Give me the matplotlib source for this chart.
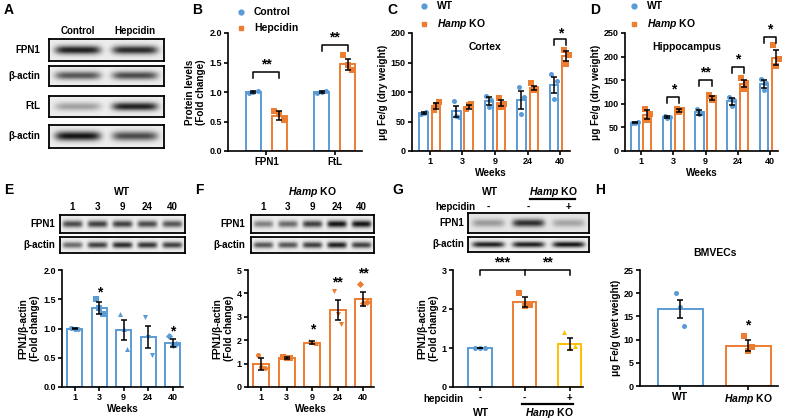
import numpy as np
import matplotlib.pyplot as plt
from matplotlib.lines import Line2D

plt.rcParams.update({
    'font.family': ['Liberation Sans', 'DejaVu Sans'],
    'font.weight': 'bold',
    'axes.labelweight': 'bold',
    'mathtext.fontset': 'custom',
    'mathtext.it': 'Liberation Sans:italic:bold',
    'mathtext.rm': 'Liberation Sans:bold',
    'axes.linewidth': 1.2,
    'xtick.major.width': 1.2, 'ytick.major.width': 1.2,
    'xtick.major.size': 3, 'ytick.major.size': 3,
    'xtick.labelsize': 6.5, 'ytick.labelsize': 6.5,
    'axes.labelsize': 7.2,
})

HAMP = r'$\it{Hamp}$ KO'
BLUE, ORANGE, YELLOW = '#5B9BD5', '#ED7D31', '#FFC000'

# ---- data ----
# B
b_groups = ['FPN1', 'FtL']
b_ctrl_mean = [1.00, 1.00]
b_ctrl_sem = [0.01, 0.02]
b_ctrl_pts = [[0.99, 1.00, 1.01], [0.98, 1.00, 1.01]]
b_hep_mean = [0.60, 1.47]
b_hep_sem = [0.07, 0.09]
b_hep_pts = [[0.68, 0.62, 0.53], [1.62, 1.45, 1.37]]

# C cortex / D hippocampus
weeks = ['1', '3', '9', '24', '40']
c_wt_mean = [64, 67, 85, 87, 112]
c_wt_sem = [2, 9, 7, 15, 14]
c_wt_pts = [[63, 65, 66], [84, 60, 57], [93, 75, 87], [108, 62, 92], [130, 88, 118]]
c_ko_mean = [76, 75, 81, 107, 161]
c_ko_sem = [5, 3, 5, 4, 8]
c_ko_pts = [[70, 78, 83], [72, 78, 80], [90, 75, 80], [115, 103, 105], [172, 148, 163]]

d_wt_mean = [60, 72, 82, 105, 142]
d_wt_sem = [1, 2, 5, 8, 8]
d_wt_pts = [[59, 60, 61], [74, 70, 72], [88, 78, 80], [115, 95, 107], [152, 130, 145]]
d_ko_mean = [77, 85, 112, 143, 198]
d_ko_sem = [10, 3, 4, 7, 15]
d_ko_pts = [[90, 65, 78], [88, 83, 86], [118, 108, 112], [155, 132, 145], [225, 180, 195]]

# E WT / F Hamp KO western quantification
e_mean = [1.00, 1.35, 0.98, 0.86, 0.75]
e_sem = [0.01, 0.11, 0.17, 0.19, 0.07]
e_pts = [[1.01, 0.99, 1.00], [1.50, 1.35, 1.25], [1.25, 1.00, 0.65], [1.20, 0.85, 0.55], [0.88, 0.72, 0.73]]
f_mean = [0.98, 1.25, 1.90, 3.28, 3.78]
f_sem = [0.25, 0.05, 0.05, 0.42, 0.30]
f_pts = [[1.35, 0.85, 0.80], [1.30, 1.22, 1.25], [1.95, 1.92, 1.90], [4.10, 3.10, 2.70], [4.40, 3.60, 3.65]]

# G
g_labels = ['-', '-', '+']
g_mean = [1.00, 2.17, 1.10]
g_sem = [0.01, 0.13, 0.15]
g_pts = [[1.00, 1.00, 1.00], [2.40, 2.08, 2.10], [1.40, 1.00, 1.05]]

# H BMVECs
h_labels = ['WT', HAMP]
h_mean = [16.6, 8.7]
h_sem = [2.0, 1.2]
h_pts = [[20.0, 17.0, 13.0], [10.8, 7.5, 8.5]]

# blot band intensities
a_fpn1 = [0.95, 0.9]
a_actin1 = [0.7, 0.75]
a_ftl = [0.35, 0.95]
a_actin2 = [1.0, 0.75]
e_fpn1 = [0.75, 0.8, 0.8, 0.75, 0.7]
e_actin = [0.6, 0.8, 0.9, 0.85, 0.8]
f_fpn1 = [0.5, 0.6, 0.8, 1.0, 1.0]
f_actin = [0.7, 0.7, 0.8, 0.95, 0.8]
g_fpn1 = [0.35, 0.85, 0.3]
g_actin = [0.95, 0.95, 1.0]

W, H = 787, 420
fig = plt.figure(figsize=(7.87, 4.2), dpi=100)


def pax(x0, y0, x1, y1):
    return fig.add_axes([x0 / W, 1 - y1 / H, (x1 - x0) / W, (y1 - y0) / H])


def ftext(x, y, s, **kw):
    fig.text(x / W, 1 - y / H, s, **kw)


def fline(xs, ys, **kw):
    fig.add_artist(Line2D([x / W for x in xs], [1 - y / H for y in ys],
                          transform=fig.transFigure, **kw))


def style(ax):
    for s in ['top', 'right']:
        ax.spines[s].set_visible(False)
    ax.tick_params(direction='out', pad=1.5)


def bar_set(ax, xs, means, sems, pts, color, width, markers, jit):
    ax.bar(xs, means, width, color='white', edgecolor=color, linewidth=1.4, zorder=1)
    for x, p, m in zip(xs, pts, markers):
        ax.scatter(x + np.array([-jit, 0, jit]), p, marker=m, s=13,
                   color=color, linewidths=0, zorder=2, clip_on=False)
    ax.errorbar(xs, means, yerr=sems, fmt='none', ecolor='black', elinewidth=1.1,
                capsize=2.5, capthick=1.1, zorder=3)


def bracket(ax, x1, x2, y, d, label, ty, size=10):
    ax.plot([x1, x1, x2, x2], [y - d, y, y, y - d], color='black', lw=1.1, clip_on=False)
    ax.text((x1 + x2) / 2, ty, label, ha='center', va='baseline', fontsize=size)


def blot(x0, y0, x1, y1, intens, bg=0.93, sy=0.2, bw=0.4):
    ax = pax(x0, y0, x1, y1)
    n = len(intens)
    h, w = 40, 60 * n
    yy, xx = np.mgrid[0:1:h * 1j, 0:1:w * 1j]
    img = np.full((h, w), bg)
    for i, v in enumerate(intens):
        cx = (i + 0.5) / n
        prof = np.exp(-((xx - cx) / (bw / n)) ** 6) * np.exp(-((yy - 0.5) / sy) ** 2)
        img -= v * 0.85 * prof
    ax.imshow(img, cmap='gray', vmin=0, vmax=1, aspect='auto', extent=[0, 1, 0, 1],
              interpolation='bilinear')
    ax.set_xticks([])
    ax.set_yticks([])
    for s in ax.spines.values():
        s.set_linewidth(1.3)
    return ax


def legend2(x, y1, y2, m1, m2, lab1, lab2):
    fig.add_artist(Line2D([x / W], [1 - y1 / H], marker=m1, color=BLUE, ms=3.5, lw=0,
                          transform=fig.transFigure))
    fig.add_artist(Line2D([x / W], [1 - y2 / H], marker=m2, color=ORANGE, ms=3.5, lw=0,
                          transform=fig.transFigure))
    ftext(x + 13, y1, lab1, fontsize=7.5, va='center')
    ftext(x + 13, y2, lab2, fontsize=7.5, va='center')


# panel letters
for lab, x, y in [('A', 4, 10), ('B', 192, 10), ('C', 387, 10), ('D', 590, 10),
                  ('E', 4, 190), ('F', 195, 190), ('G', 392, 190), ('H', 595, 190)]:
    ftext(x, y, lab, fontsize=10, va='center')

# ---- A ----
blot(49, 39, 164, 61, a_fpn1)
blot(49, 66, 164, 86, a_actin1)
blot(49, 96, 164, 117, a_ftl)
blot(49, 125, 164, 148, a_actin2)
ftext(78, 31, 'Control', fontsize=7, ha='center', va='center')
ftext(135, 31, 'Hepcidin', fontsize=7, ha='center', va='center')
for lab, y in [('FPN1', 50), ('β-actin', 76), ('FtL', 106), ('β-actin', 136)]:
    ftext(40, y, lab, fontsize=7, ha='right', va='center')

# ---- B ----
ax = pax(228, 33, 362, 151)
style(ax)
xb = np.arange(len(b_groups))
bar_set(ax, xb - 0.19, b_ctrl_mean, b_ctrl_sem, b_ctrl_pts, BLUE, 0.22, ['o', 'o'], 0.07)
bar_set(ax, xb + 0.19, b_hep_mean, b_hep_sem, b_hep_pts, ORANGE, 0.22, ['s', 's'], 0.07)
ax.set_xlim(-0.56, 1.40)
ax.set_ylim(0, 2)
ax.set_yticks([0, 0.5, 1.0, 1.5, 2.0])
ax.set_yticklabels(['0.0', '0.5', '1.0', '1.5', '2.0'])
ax.set_xticks(xb)
ax.set_xticklabels(b_groups, fontsize=7)
ax.set_ylabel('Protein levels\n(Fold change)', labelpad=2)
bracket(ax, -0.19, 0.19, 1.34, 0.1, '**', 1.40)
bracket(ax, 0.81, 1.19, 1.80, 0.1, '**', 1.86)
legend2(241, 12, 28, 'o', 's', 'Control', 'Hepcidin')

# ---- C / D ----
xw = np.arange(len(weeks))
for (x0, x1, top, wt_m, wt_s, wt_p, ko_m, ko_s, ko_p, title, tx) in [
        (412, 570, 200, c_wt_mean, c_wt_sem, c_wt_pts, c_ko_mean, c_ko_sem, c_ko_pts, 'Cortex', 485),
        (625, 778, 250, d_wt_mean, d_wt_sem, d_wt_pts, d_ko_mean, d_ko_sem, d_ko_pts, 'Hippocampus', 687)]:
    ax = pax(x0, 33, x1, 151)
    style(ax)
    bar_set(ax, xw - 0.19, wt_m, wt_s, wt_p, BLUE, 0.26, ['o'] * 5, 0.08)
    bar_set(ax, xw + 0.19, ko_m, ko_s, ko_p, ORANGE, 0.26, ['s'] * 5, 0.08)
    ax.set_ylim(0, top)
    ax.set_yticks(np.arange(0, top + 1, 50))
    ax.set_xticks(xw)
    ax.set_xticklabels(weeks)
    ax.set_xlabel('Weeks', labelpad=1)
    ax.set_ylabel('μg Fe/g (dry weight)', labelpad=2)
    ftext(tx, 47, title, fontsize=7.5, ha='center', va='center')
    if title == 'Cortex':
        ax.set_xlim(-0.55, 4.3)
        bracket(ax, 3.81, 4.19, 190, 10, '*', 193)
        legend2(424, 6, 24, 'o', 's', 'WT', HAMP)
    else:
        ax.set_xlim(-0.5, 4.25)
        bracket(ax, 0.81, 1.19, 114, 12, '*', 122)
        bracket(ax, 1.81, 2.19, 150, 12, '**', 158)
        bracket(ax, 2.81, 3.19, 178, 12, '*', 186)
        bracket(ax, 3.81, 4.19, 241, 12, '*', 249)
        legend2(634, 6, 24, 'o', 's', 'WT', HAMP)

# ---- E / F ----
marks = ['o', 's', '^', 'v', 'D']
for (bx0, bx1, fpn, act, gtitle, lx, ax0, ax1, means, sems, pts, color, top, ticks, tlabs) in [
        (60, 185, e_fpn1, e_actin, 'WT', 55, 62, 183, e_mean, e_sem, e_pts, BLUE, 2,
         [0, 0.5, 1.0, 1.5, 2.0], ['0.0', '0.5', '1.0', '1.5', '2.0']),
        (251, 374, f_fpn1, f_actin, HAMP, 245, 248, 374, f_mean, f_sem, f_pts, ORANGE, 5,
         [0, 1, 2, 3, 4, 5], ['0', '1', '2', '3', '4', '5'])]:
    blot(bx0, 215, bx1, 233, fpn)
    blot(bx0, 237, bx1, 253, act)
    ftext(lx, 224, 'FPN1', fontsize=7, ha='right', va='center')
    ftext(lx, 245, 'β-actin', fontsize=7, ha='right', va='center')
    ftext((bx0 + bx1) / 2, 192, gtitle, fontsize=7.5, ha='center', va='center')
    for i, wk in enumerate(weeks):
        ftext(bx0 + (i + 0.5) * (bx1 - bx0) / 5, 207, wk, fontsize=7, ha='center', va='center')
    ax = pax(ax0, 270, ax1, 387)
    style(ax)
    bar_set(ax, xw, means, sems, pts, color, 0.62, marks, 0.14)
    ax.set_xlim(-0.52, 4.42)
    ax.set_ylim(0, top)
    ax.set_yticks(ticks)
    ax.set_yticklabels(tlabs)
    ax.set_xticks(xw)
    ax.set_xticklabels(weeks)
    ax.set_xlabel('Weeks', labelpad=1)
    ax.set_ylabel('FPN1/β-actin\n(Fold change)', labelpad=2)
    if color == BLUE:
        ax.text(1, 1.55, '*', ha='center', va='baseline', fontsize=10)
        ax.text(4, 0.88, '*', ha='center', va='baseline', fontsize=10)
    else:
        ax.text(2, 2.3, '*', ha='center', va='baseline', fontsize=10)
        ax.text(3, 4.3, '**', ha='center', va='baseline', fontsize=10)
        ax.text(4, 4.68, '**', ha='center', va='baseline', fontsize=10)

# ---- G ----
blot(468, 213, 589, 233, g_fpn1, bg=0.9)
blot(468, 237, 589, 252, g_actin)
ftext(464, 223, 'FPN1', fontsize=7, ha='right', va='center')
ftext(464, 244, 'β-actin', fontsize=7, ha='right', va='center')
ftext(475, 207, 'hepcidin', fontsize=7, ha='right', va='center')
for i, s in enumerate(g_labels):
    ftext(468 + (i + 0.5) * 121 / 3, 207, s, fontsize=7, ha='center', va='center')
ftext(490, 192, 'WT', fontsize=7.5, ha='center', va='center')
ftext(553, 192, HAMP, fontsize=7.5, ha='center', va='center')
fline([530, 575], [199, 199], color='black', lw=1.6)

ax = pax(453, 270, 583, 387)
style(ax)
xg = np.arange(len(g_labels))
for i, c, m in zip(xg, [BLUE, ORANGE, YELLOW], ['o', 's', '^']):
    bar_set(ax, [i], [g_mean[i]], [g_sem[i]], [g_pts[i]], c, 0.52, [m], 0.12)
ax.set_xlim(-0.6, 2.3)
ax.set_ylim(0, 3)
ax.set_yticks([0, 1, 2, 3])
ax.set_xticks(xg)
ax.set_xticklabels(g_labels, fontsize=7)
ax.set_ylabel('FPN1/β-actin\n(Fold change)', labelpad=2)
ax.plot([0, 0, 2, 2], [2.88, 3.0, 3.0, 2.88], color='black', lw=1.1, clip_on=False)
ax.plot([1, 1], [2.88, 3.0], color='black', lw=1.1, clip_on=False)
ax.text(0.5, 3.1, '***', ha='center', va='baseline', fontsize=10)
ax.text(1.5, 3.1, '**', ha='center', va='baseline', fontsize=10)
ftext(464, 399, 'hepcidin', fontsize=7, ha='right', va='center')
fline([522, 573], [404, 404], color='black', lw=1.6)
ftext(481, 413, 'WT', fontsize=7.5, ha='center', va='center')
ftext(549, 413, HAMP, fontsize=7.5, ha='center', va='center')

# ---- H ----
ax = pax(640, 270, 778, 386)
style(ax)
xh = np.arange(len(h_labels))
for i, c, m in zip(xh, [BLUE, ORANGE], ['o', 's']):
    bar_set(ax, [i], [h_mean[i]], [h_sem[i]], [h_pts[i]], c, 0.66, [m], 0.06)
ax.set_xlim(-0.59, 1.44)
ax.set_ylim(0, 25)
ax.set_yticks(np.arange(0, 26, 5))
ax.set_xticks(xh)
ax.set_xticklabels(h_labels, fontsize=7.5)
ax.set_ylabel('μg Fe/g (wet weight)', labelpad=2)
ax.text(1, 12.2, '*', ha='center', va='baseline', fontsize=10)
ftext(715, 253, 'BMVECs', fontsize=7.5, ha='center', va='center')

fig.savefig('out.png', dpi=100)
